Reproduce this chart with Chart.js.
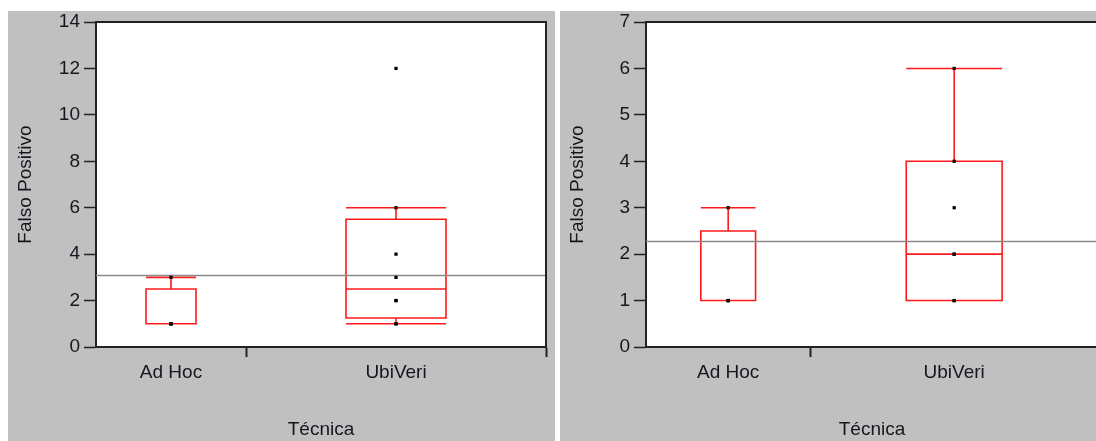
<!DOCTYPE html>
<html>
<head>
<meta charset="utf-8">
<script src="https://cdn.jsdelivr.net/npm/chart.js@4.4.0/dist/chart.umd.min.js"></script>
<style>
    html, body { margin: 0; padding: 0; background: #fff; width: 1096px; height: 441px; overflow: hidden; position: relative; }
    .painel { position: absolute; top: 11px; height: 430px; background: #c0c0c0; }
    #painel1 { left: 8px; width: 547px; }
    #painel2 { left: 560px; width: 548px; }
    canvas { display: block; }
</style>
</head>
<body>
<div class="painel" id="painel1"><canvas id="chart1" width="547" height="430"></canvas></div>
<div class="painel" id="painel2"><canvas id="chart2" width="548" height="430"></canvas></div>
<script>
// Dados: falsos positivos por técnica
const categorias = ['Ad Hoc', 'UbiVeri'];
const adHoc1 = [1, 1, 1, 3];
const ubiVeri1 = [1, 1, 2, 2, 3, 4, 6, 12];
const adHoc2 = [1, 1, 1, 3];
const ubiVeri2 = [1, 1, 2, 2, 3, 4, 6];
const yTicks1 = [0, 2, 4, 6, 8, 10, 12, 14];
const yTicks2 = [0, 1, 2, 3, 4, 5, 6, 7];

const fonte = { family: "Arial, 'Liberation Sans', sans-serif", size: 19 };
const corTexto = '#16161f';
const corEixo = '#222';
const vermelho = '#ff1a1a';

// quantil no estilo JMP: posição (n+1)p
function quantil(v, p) {
    const s = [...v].sort((a, b) => a - b);
    const pos = (s.length + 1) * p;
    const i = Math.floor(pos);
    if (i < 1) return s[0];
    if (i >= s.length) return s[s.length - 1];
    return s[i - 1] + (pos - i) * (s[i] - s[i - 1]);
}

function resumo(v) {
    const q1 = quantil(v, 0.25), med = quantil(v, 0.5), q3 = quantil(v, 0.75);
    const iqr = q3 - q1;
    const dentro = v.filter(x => x >= q1 - 1.5 * iqr && x <= q3 + 1.5 * iqr);
    return { q1, med, q3, min: Math.min(...dentro), max: Math.max(...dentro) };
}

// desenha as caixas (largura de cada categoria proporcional ao n)
const caixasPlugin = {
    id: 'caixas',
    beforeDraw(chart) {
        // fundo branco só dentro da área do gráfico
        const { ctx, chartArea: a } = chart;
        ctx.save();
        ctx.fillStyle = '#fff';
        ctx.fillRect(a.left, a.top, a.right - a.left, a.bottom - a.top);
        ctx.restore();
    },
    beforeDatasetsDraw(chart, args, opts) {
        const { ctx, scales: { x, y } } = chart;
        let inicio = 0;
        ctx.save();
        ctx.strokeStyle = vermelho;
        ctx.lineWidth = 1.6;
        opts.grupos.forEach(g => {
            const n = g.length;
            const r = resumo(g);
            const cx = x.getPixelForValue(inicio + n / 2);
            const xa = x.getPixelForValue(inicio + n / 2 - n / 6);
            const xb = x.getPixelForValue(inicio + n / 2 + n / 6);
            const yq1 = y.getPixelForValue(r.q1), yq3 = y.getPixelForValue(r.q3);
            ctx.beginPath();
            ctx.rect(xa, yq3, xb - xa, yq1 - yq3);
            ctx.moveTo(xa, y.getPixelForValue(r.med));
            ctx.lineTo(xb, y.getPixelForValue(r.med));
            // bigodes
            ctx.moveTo(cx, yq3); ctx.lineTo(cx, y.getPixelForValue(r.max));
            ctx.moveTo(cx, yq1); ctx.lineTo(cx, y.getPixelForValue(r.min));
            ctx.moveTo(xa, y.getPixelForValue(r.max)); ctx.lineTo(xb, y.getPixelForValue(r.max));
            ctx.moveTo(xa, y.getPixelForValue(r.min)); ctx.lineTo(xb, y.getPixelForValue(r.min));
            ctx.stroke();
            inicio += n;
        });
        ctx.restore();
    },
    afterDraw(chart) {
        // moldura superior e direita da área do gráfico
        const { ctx, chartArea: a } = chart;
        ctx.save();
        ctx.strokeStyle = corEixo;
        ctx.lineWidth = 2;
        ctx.beginPath();
        ctx.moveTo(a.left, a.top);
        ctx.lineTo(a.right, a.top);
        ctx.lineTo(a.right, a.bottom);
        ctx.stroke();
        ctx.restore();
    }
};

function criarGrafico(id, grupos, yTicks, larguraEixoY, paddingDireita) {
    const total = grupos.reduce((s, g) => s + g.length, 0);
    const todos = grupos.flat();
    const media = todos.reduce((s, v) => s + v, 0) / todos.length;

    // posições dos rótulos e separadores no eixo x
    const centros = [];
    const separadores = [];
    let inicio = 0;
    grupos.forEach(g => {
        centros.push(inicio + g.length / 2);
        inicio += g.length;
        separadores.push(inicio);
    });

    const pontos = [];
    inicio = 0;
    grupos.forEach(g => {
        g.forEach(v => pontos.push({ x: inicio + g.length / 2, y: v }));
        inicio += g.length;
    });

    return new Chart(document.getElementById(id).getContext('2d'), {
        type: 'scatter',
        data: {
            datasets: [{
                label: 'Valores',
                data: pontos,
                pointStyle: 'rect',
                pointRadius: 2.3,
                backgroundColor: '#000',
                borderWidth: 0,
                order: 0
            }, {
                label: 'Média',
                type: 'line',
                data: [{ x: 0, y: media }, { x: total, y: media }],
                borderColor: '#8a8a8a',
                borderWidth: 1.5,
                pointRadius: 0,
                order: 1
            }]
        },
        options: {
            responsive: false,
            animation: false,
            devicePixelRatio: 1,
            layout: { padding: { top: 11, right: paddingDireita, bottom: 0, left: 0 } },
            plugins: {
                legend: { display: false },
                tooltip: { enabled: false },
                caixas: { grupos: grupos }
            },
            scales: {
                x: {
                    type: 'linear',
                    min: 0,
                    max: total,
                    afterBuildTicks: s => {
                        s.ticks = [...centros, ...separadores].sort((a, b) => a - b).map(v => ({ value: v }));
                    },
                    afterFit: s => { s.height = 94; s.paddingRight = 0; },
                    ticks: {
                        autoSkip: false,
                        maxRotation: 0,
                        font: fonte,
                        color: corTexto,
                        padding: 4,
                        callback: v => {
                            const i = centros.indexOf(v);
                            return i >= 0 ? categorias[i] : '';
                        }
                    },
                    grid: {
                        drawOnChartArea: false,
                        tickLength: 10,
                        tickWidth: 2,
                        tickColor: c => (c.tick && separadores.includes(c.tick.value)) ? corEixo : 'rgba(0,0,0,0)'
                    },
                    border: { color: corEixo, width: 2 },
                    title: { display: true, text: 'Técnica', font: fonte, color: corTexto, padding: { top: 5, bottom: 0 } }
                },
                y: {
                    min: 0,
                    max: yTicks[yTicks.length - 1],
                    afterBuildTicks: s => { s.ticks = yTicks.map(v => ({ value: v })); },
                    afterFit: s => { s.width = larguraEixoY; s.paddingTop = 0; s.paddingBottom = 0; },
                    ticks: { font: fonte, color: corTexto, padding: 4 },
                    grid: { drawOnChartArea: false, tickLength: 12, tickWidth: 1.5, tickColor: corEixo },
                    border: { color: corEixo, width: 2 },
                    title: { display: true, text: 'Falso Positivo', font: fonte, color: corTexto, padding: { top: 6, bottom: 0 } }
                }
            }
        },
        plugins: [caixasPlugin]
    });
}

criarGrafico('chart1', [adHoc1, ubiVeri1], yTicks1, 88, 9);
criarGrafico('chart2', [adHoc2, ubiVeri2], yTicks2, 86, 10);
</script>
</body>
</html>
